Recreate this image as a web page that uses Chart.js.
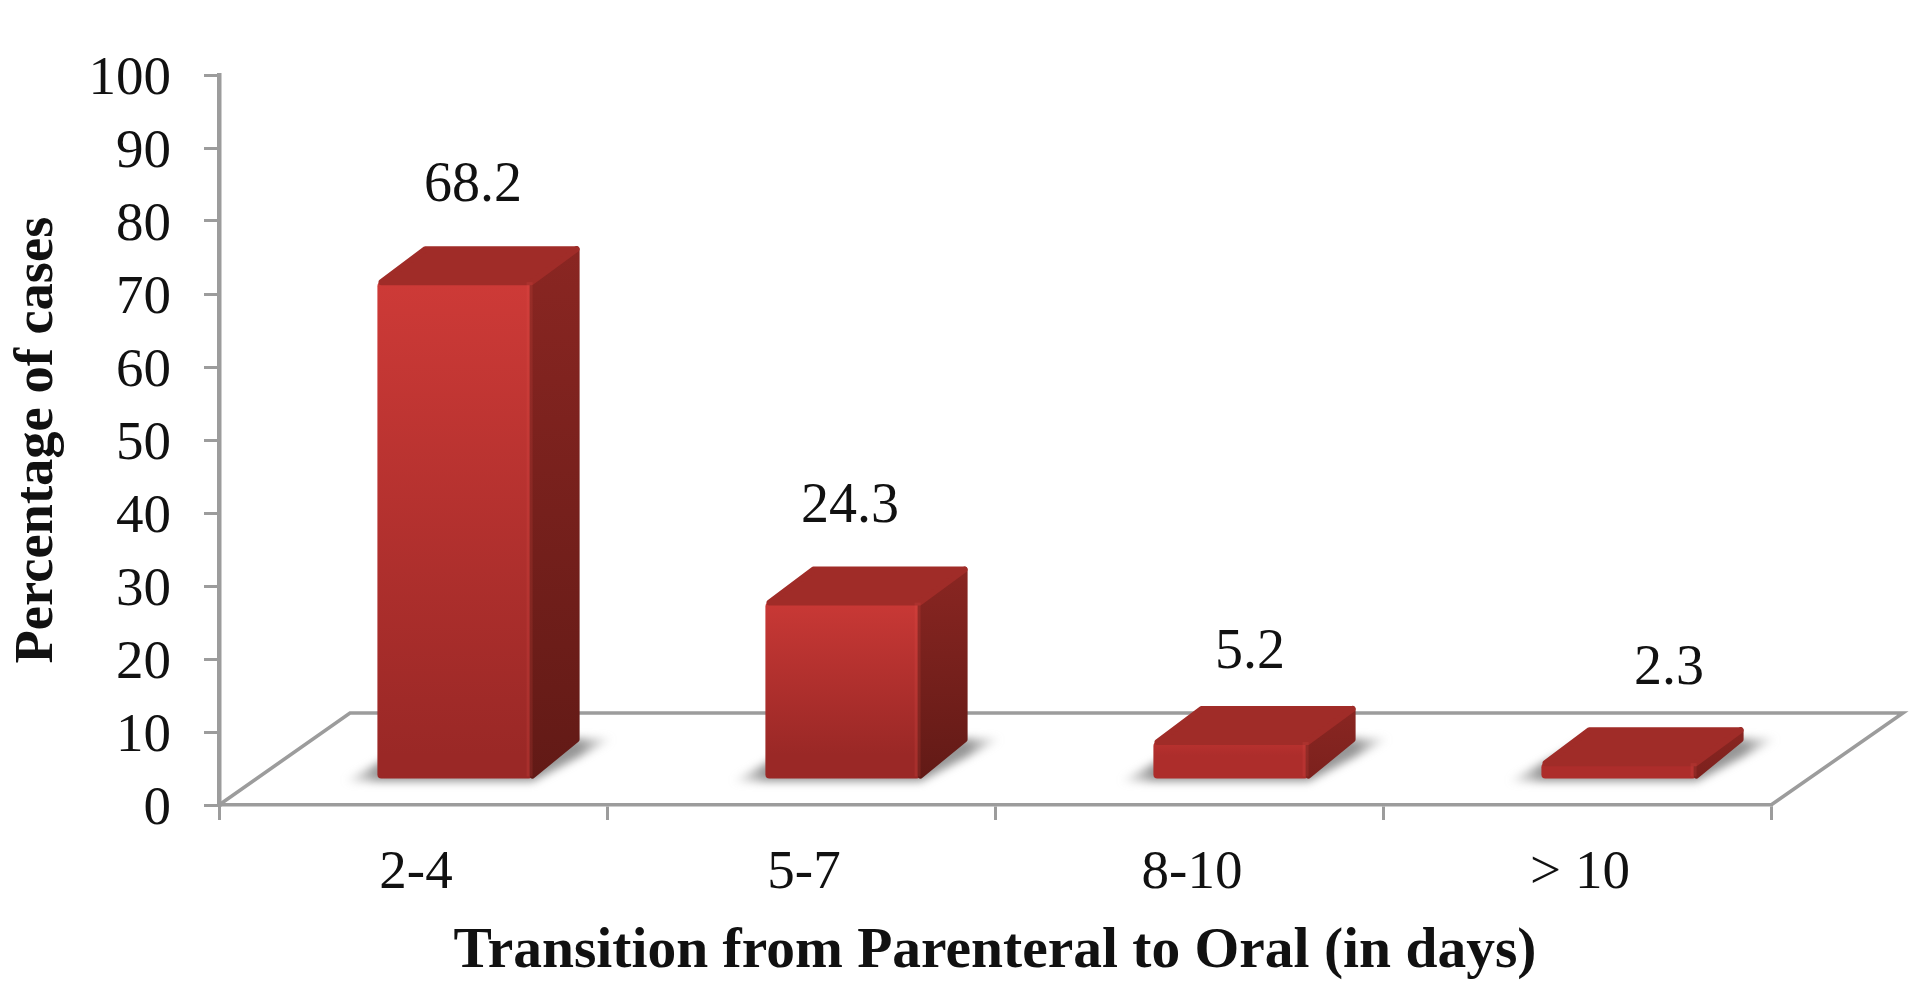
<!DOCTYPE html>
<html>
<head>
<meta charset="utf-8">
<title>Transition from Parenteral to Oral</title>
<script src="https://cdn.jsdelivr.net/npm/chart.js@4/dist/chart.umd.min.js"></script>
<style>
  html, body { margin: 0; padding: 0; background: #fff; }
  canvas { display: block; filter: blur(0.6px); }
</style>
</head>
<body>
<canvas id="chart" width="1913" height="990"></canvas>
<script>
const categories = ['2-4', '5-7', '8-10', '> 10'];
const percentages = [68.2, 24.3, 5.2, 2.3];
const yTicks = [0, 10, 20, 30, 40, 50, 60, 70, 80, 90, 100];
const xTitle = 'Transition from Parenteral to Oral (in days)';
const yTitle = 'Percentage of cases';

// 3D look: the bars stand on a floor that sits up and to the right of the axes
const BAR_SHIFT = { x: 42, y: -25 };
const DEPTH = { x: 47, y: 36 };
const FLOOR_BACK = { y: 713, left: 131, right: 132 };
const LABEL_NUDGE_X = [60, 49, 61, 92];
const LABEL_NUDGE_Y = [-96, -95, -89, -94];
const CORNER = 3;

const AXIS_GREY = '#9c9c9c';
const SERIF = '"Liberation Serif", serif';

function frontGradient(context) {
  const { chart, parsed } = context;
  if (!parsed) return '#b53030';
  const top = chart.scales.y.getPixelForValue(parsed.y) + BAR_SHIFT.y;
  const bottom = chart.scales.y.getPixelForValue(0) + BAR_SHIFT.y;
  // scales have no size yet on the first pass
  if (!Number.isFinite(top) || !Number.isFinite(bottom)) return '#b53030';
  const g = chart.ctx.createLinearGradient(0, top, 0, bottom);
  g.addColorStop(0, '#d03b38');
  g.addColorStop(1, bottom - top > 100 ? '#9a2826' : '#ad2d2b');
  return g;
}

// ─── Floor and shadows, behind the bars ───
function drawFloor(chart) {
  const { ctx, chartArea: a } = chart;
  ctx.save();
  ctx.strokeStyle = AXIS_GREY;
  ctx.lineWidth = 3.5;
  ctx.beginPath();
  ctx.moveTo(a.left, a.bottom);
  ctx.lineTo(a.left + FLOOR_BACK.left, FLOOR_BACK.y);
  ctx.lineTo(a.right + FLOOR_BACK.right, FLOOR_BACK.y);
  ctx.lineTo(a.right, a.bottom);
  ctx.stroke();
  ctx.restore();
}

function drawShadow(chart, bar) {
  const { ctx } = chart;
  const left = bar.x - bar.width / 2 + BAR_SHIFT.x;
  const right = bar.x + bar.width / 2 + BAR_SHIFT.x;
  const bottom = bar.base + BAR_SHIFT.y;
  const g = ctx.createLinearGradient(left - 34, 0, right + DEPTH.x + 34, 0);
  const span = right + DEPTH.x + 68 - left;
  g.addColorStop(0, 'rgba(140,140,140,0)');
  g.addColorStop(34 / span, 'rgba(115,115,115,0.75)');
  g.addColorStop(1 - 34 / span, 'rgba(115,115,115,0.75)');
  g.addColorStop(1, 'rgba(140,140,140,0)');
  ctx.save();
  ctx.filter = 'blur(4px)';
  ctx.fillStyle = g;
  ctx.beginPath();
  ctx.moveTo(left - 34, bottom + 3);
  ctx.lineTo(right, bottom + 3);
  ctx.lineTo(right + DEPTH.x + 34, bottom - DEPTH.y - 4);
  ctx.lineTo(left + DEPTH.x, bottom - DEPTH.y - 4);
  ctx.closePath();
  ctx.fill();
  ctx.restore();
}

// ─── Side and top faces, after the front ───
function drawFaces(chart, bar) {
  const { ctx } = chart;
  const left = bar.x - bar.width / 2 + BAR_SHIFT.x;
  const right = bar.x + bar.width / 2 + BAR_SHIFT.x;
  const top = bar.y + BAR_SHIFT.y;
  const bottom = bar.base + BAR_SHIFT.y;

  const side = ctx.createLinearGradient(0, top - DEPTH.y, 0, bottom);
  side.addColorStop(0, '#8a2622');
  side.addColorStop(1, bottom - top > 100 ? '#621a16' : '#7c211d');

  ctx.save();
  ctx.lineJoin = 'round';
  ctx.lineWidth = CORNER * 2;

  ctx.fillStyle = side;
  ctx.strokeStyle = side;
  ctx.beginPath();
  ctx.moveTo(right, top + CORNER);
  ctx.lineTo(right + DEPTH.x - CORNER, top - DEPTH.y + CORNER);
  ctx.lineTo(right + DEPTH.x - CORNER, bottom - DEPTH.y - CORNER);
  ctx.lineTo(right, bottom - CORNER);
  ctx.closePath();
  ctx.fill();
  ctx.stroke();

  ctx.fillStyle = '#a02c28';
  ctx.strokeStyle = '#a02c28';
  ctx.beginPath();
  ctx.moveTo(left + CORNER + 1, top - CORNER + 3);
  ctx.lineTo(left + DEPTH.x + 1, top - DEPTH.y + CORNER);
  ctx.lineTo(right + DEPTH.x - CORNER, top - DEPTH.y + CORNER);
  ctx.lineTo(right - 1, top - CORNER + 3);
  ctx.closePath();
  ctx.fill();
  ctx.stroke();

  // lighter bevel down the right edge of the front
  ctx.fillStyle = 'rgba(235,90,80,0.16)';
  ctx.fillRect(right - 6, top, 6, bottom - top - 2);
  ctx.restore();
}

function drawValueLabels(chart, bars) {
  const { ctx } = chart;
  ctx.save();
  ctx.font = '56px ' + SERIF;
  ctx.fillStyle = '#111';
  ctx.textAlign = 'center';
  ctx.textBaseline = 'middle';
  bars.forEach((bar, i) => {
    ctx.fillText(percentages[i].toFixed(1), bar.x + LABEL_NUDGE_X[i], bar.y + BAR_SHIFT.y + LABEL_NUDGE_Y[i]);
  });
  ctx.restore();
}

const bar3d = {
  id: 'bar3d',
  beforeDatasetsDraw(chart) {
    drawFloor(chart);
    chart.getDatasetMeta(0).data.forEach(bar => drawShadow(chart, bar));
  },
  beforeDatasetDraw(chart) {
    chart.ctx.save();
    chart.ctx.translate(BAR_SHIFT.x, BAR_SHIFT.y);
  },
  afterDatasetDraw(chart) {
    chart.ctx.restore();
  },
  afterDatasetsDraw(chart) {
    const bars = chart.getDatasetMeta(0).data;
    bars.forEach(bar => drawFaces(chart, bar));
    drawValueLabels(chart, bars);
  }
};

new Chart(document.getElementById('chart'), {
  type: 'bar',
  data: {
    labels: categories,
    datasets: [{
      data: percentages,
      backgroundColor: frontGradient,
      barPercentage: 0.4,
      categoryPercentage: 1,
      borderRadius: 4,
      borderSkipped: false,
      clip: false
    }]
  },
  options: {
    responsive: false,
    animation: false,
    layout: { padding: { top: 75, right: 142, left: 0, bottom: 0 } },
    plugins: { legend: { display: false }, tooltip: { enabled: false } },
    scales: {
      x: {
        afterFit: s => { s.height = 185; },
        grid: { offset: true, drawOnChartArea: false, color: AXIS_GREY, lineWidth: 3, tickLength: 15 },
        border: { color: AXIS_GREY, width: 3.5 },
        ticks: { color: '#111', font: { family: SERIF, size: 55 }, padding: 21, labelOffset: 3, maxRotation: 0 },
        title: {
          display: true,
          text: xTitle,
          color: '#111',
          font: { family: SERIF, size: 57.5, weight: 'bold' },
          padding: { top: 14, bottom: 3 }
        }
      },
      y: {
        min: 0,
        max: 100,
        afterFit: s => { s.width = 219; },
        afterBuildTicks: s => { s.ticks = yTicks.map(value => ({ value })); },
        grid: { drawOnChartArea: false, color: AXIS_GREY, lineWidth: 3, tickLength: 15 },
        border: { color: AXIS_GREY, width: 4.5 },
        ticks: { color: '#111', font: { family: SERIF, size: 55 }, padding: 33, labelOffset: 5 },
        title: {
          display: true,
          text: yTitle,
          color: '#111',
          font: { family: SERIF, size: 54.5, weight: 'bold' },
          padding: { top: 5, bottom: 0 }
        }
      }
    }
  },
  plugins: [bar3d]
});
</script>
</body>
</html>
